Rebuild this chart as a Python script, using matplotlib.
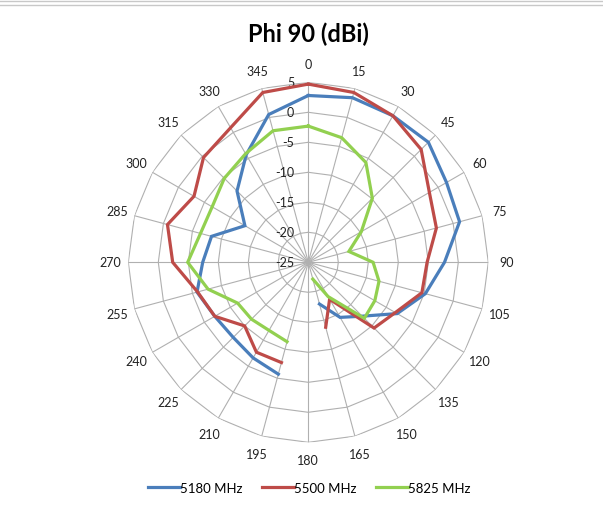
import numpy as np
import matplotlib
matplotlib.use('Agg')
import matplotlib.pyplot as plt
from matplotlib.lines import Line2D
from matplotlib.transforms import offset_copy

# ---------------- data ----------------
angles_deg = list(range(0, 360, 15))
angle_labels = [str(a) for a in angles_deg]
r_ticks = [-25, -20, -15, -10, -5, 0, 5]
series_names = ['5180 MHz', '5500 MHz', '5825 MHz']
nan = np.nan
mhz5180 = [2.8, 3.4, 3.2, 3.3, 1.6, 1.1, -2.3, -4.8, -7.9, -12.3, -14.4, -17.8,
           nan, -5.7, -6.6, -7.3, -7.0, -5.8, -7.4, -8.3, -12.8, -8.2, -4.3, 0.5]
mhz5500 = [4.7, 4.3, 3.2, 1.6, -1.7, -2.9, -5.2, -5.4, -8.25, -9.5, -17.9, -13.8,
           nan, -7.7, -7.7, -10.0, -7.0, -5.9, -2.4, -0.7, -3.0, -0.3, 0.9, 4.3]
mhz5825 = [-2.3, -3.5, -5.8, -9.9, -14.8, -18.0, -14.2, -12.8, -12.2, -11.8, -18.4, -22.1,
           nan, -11.3, -11.9, -11.6, -11.4, -7.7, -4.9, -6.4, -6.5, -5.2, -4.1, -2.3]
series_values = [mhz5180, mhz5500, mhz5825]
colors = ['#4A7EBB', '#BE4B48', '#92D050']
title = 'Phi 90 (dBi)'

# ---------------- figure ----------------
plt.rcParams['font.family'] = ['Lato', 'DejaVu Sans']
W, H = 603, 510
fig = plt.figure(figsize=(W / 100, H / 100), dpi=100)
fig.patch.set_facecolor('white')

cx, cy, R = 308.3, 263.3, 180.0
ax = fig.add_axes([(cx - R) / W, (H - cy - R) / H, 2 * R / W, 2 * R / H],
                  projection='polar')
ax.set_theta_zero_location('N')
ax.set_theta_direction(-1)
ax.set_ylim(r_ticks[0], r_ticks[-1])
ax.grid(False)
ax.spines['polar'].set_visible(False)
ax.patch.set_alpha(0)

theta = np.deg2rad(angles_deg)
theta_closed = np.append(theta, theta[0] + 2 * np.pi)
grid_c = '#b0b0b0'

# polygon rings
for r in r_ticks[1:]:
    ax.plot(theta_closed, [r] * len(theta_closed), color=grid_c, lw=0.8, zorder=1)
# spokes
for t in theta:
    ax.plot([t, t], [r_ticks[0], r_ticks[-1]], color=grid_c, lw=0.8, zorder=1)

# angle labels
ax.set_xticks(theta)
ax.set_xticklabels(angle_labels, fontsize=9, color='#222222')
ax.tick_params(axis='x', length=0, pad=6)

# radial labels
ax.set_yticks(r_ticks)
ax.set_yticklabels([])
ax.tick_params(axis='y', length=0)
tr = offset_copy(ax.transData, fig=fig, x=-14, y=0, units='dots')
for r in r_ticks:
    ax.text(0, r, str(r), transform=tr, ha='right', va='center',
            fontsize=9, color='#222222', zorder=2)

# data
handles = []
for name, vals, c in zip(series_names, series_values, colors):
    v = np.append(np.array(vals, dtype=float), vals[0])
    ax.plot(theta_closed, v, color=c, lw=2.3, zorder=3,
            solid_joinstyle='miter', label=name)
    handles.append(Line2D([0], [0], color=c, lw=2.3))

fig.text(cx / W, 1 - 34 / H, title, ha='center', va='center',
         fontsize=17, fontweight='bold', color='black')

fig.legend(handles, series_names, loc='center', bbox_to_anchor=(0.513, 1 - 489 / H),
           ncol=3, frameon=False, fontsize=9.5, handlelength=2.4,
           handletextpad=0.0, columnspacing=1.5)

# top border lines
for yy in (1.5, 5.5):
    fig.add_artist(Line2D([0, 1], [1 - yy / H, 1 - yy / H], transform=fig.transFigure,
                          color='#c8c8c8', lw=1.0))

fig.savefig('out.png', dpi=100, facecolor='white')
